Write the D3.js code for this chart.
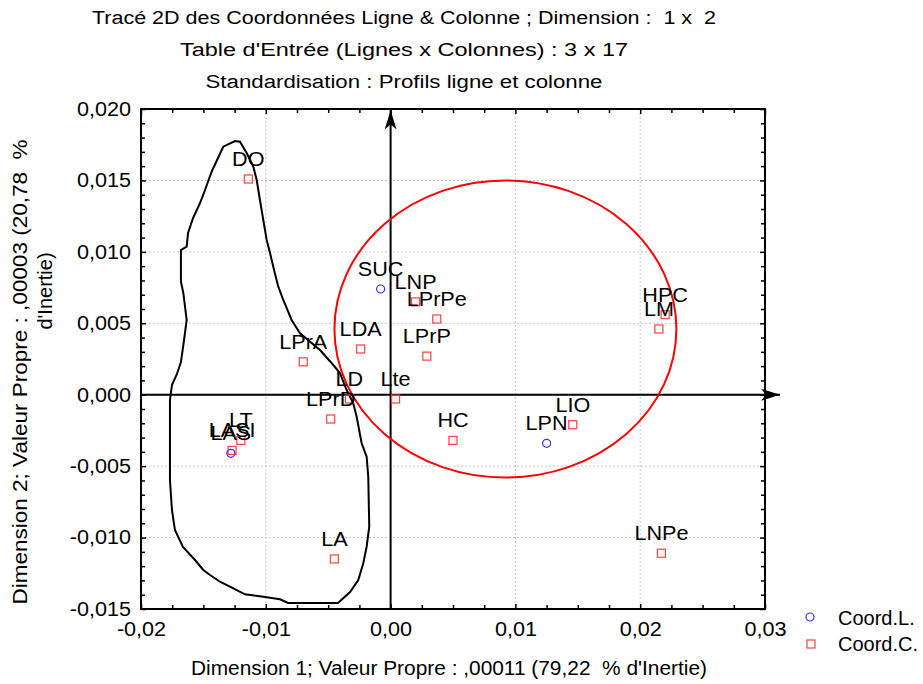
<!DOCTYPE html>
<html>
<head>
<meta charset="utf-8">
<script src="https://cdn.jsdelivr.net/npm/d3@7"></script>
<style>
  body { margin: 0; background: #fff; }
  svg { display: block; font-family: "Liberation Sans", Arial, sans-serif; }
</style>
</head>
<body>
<svg id="chart" width="923" height="684"></svg>
<script>
// ==========================
// DATA
// ==========================
// column points (Coord.C.)
const colLabels = ["DO", "LPrA", "LDA", "LNP", "LPrPe", "LPrP", "LD", "LPrD", "Lte", "HC", "LIO", "HPC", "LM", "LNPe", "LT", "LASI", "LA"];
const colX = [-0.0114, -0.0070, -0.0024, 0.0020, 0.0037, 0.0029, -0.0033, -0.0048, 0.0004, 0.0050, 0.0146, 0.0220, 0.0215, 0.0217, -0.0120, -0.0127, -0.0045];
const colY = [0.0151, 0.0023, 0.0032, 0.0065, 0.0053, 0.0027, -0.0003, -0.0017, -0.0003, -0.0032, -0.0021, 0.0056, 0.0046, -0.0111, -0.0032, -0.0039, -0.0115];

// row points (Coord.L.)
const rowLabels = ["SUC", "LPN", "LAS"];
const rowX = [-0.0008, 0.0125, -0.0128];
const rowY = [0.0074, -0.0034, -0.0041];

// axis ticks
const xTicks = [-0.02, -0.01, 0.00, 0.01, 0.02, 0.03];
const yTicks = [-0.015, -0.010, -0.005, 0.000, 0.005, 0.010, 0.015, 0.020];

// hand drawn group around the left points (data coords)
const outline = [
  [-0.01247, 0.01776], [-0.01207, 0.01771], [-0.01153, 0.01692], [-0.01100, 0.01596], [-0.01073, 0.01503],
  [-0.01047, 0.01363], [-0.01020, 0.01223], [-0.00993, 0.01083], [-0.00966, 0.00992], [-0.00934, 0.00873],
  [-0.00900, 0.00756], [-0.00860, 0.00663], [-0.00793, 0.00523], [-0.00726, 0.00430], [-0.00566, 0.00313],
  [-0.00459, 0.00208], [-0.00405, 0.00150], [-0.00352, 0.00033], [-0.00299, -0.00060], [-0.00272, -0.00154],
  [-0.00232, -0.00340], [-0.00192, -0.00434], [-0.00179, -0.00574], [-0.00171, -0.00924], [-0.00192, -0.01064],
  [-0.00219, -0.01180], [-0.00259, -0.01297], [-0.00325, -0.01381], [-0.00422, -0.01458], [-0.00822, -0.01458],
  [-0.00886, -0.01432], [-0.01020, -0.01414], [-0.01167, -0.01397], [-0.01260, -0.01355], [-0.01367, -0.01309],
  [-0.01447, -0.01262], [-0.01501, -0.01227], [-0.01567, -0.01157], [-0.01664, -0.01066], [-0.01728, -0.00947],
  [-0.01752, -0.00807], [-0.01768, -0.00597], [-0.01768, -0.00037], [-0.01752, 0.00068], [-0.01712, 0.00145],
  [-0.01680, 0.00229], [-0.01655, 0.00383], [-0.01634, 0.00523], [-0.01661, 0.00712], [-0.01680, 0.00791],
  [-0.01680, 0.01013], [-0.01634, 0.01036], [-0.01623, 0.01132], [-0.01583, 0.01237], [-0.01527, 0.01342],
  [-0.01487, 0.01433], [-0.01434, 0.01561], [-0.01383, 0.01657], [-0.01341, 0.01736]
];

// red ellipse: centre and radii (data coords)
const ellipseCenter = [0.0092, 0.0046];
const ellipseRadii = [0.0137, 0.0104];

// ==========================
// SETUP
// ==========================
const svg = d3.select("#chart");
const pLeft = 141, pRight = 765, pTop = 109, pBottom = 609;
const fontSize = 20;
const stretch = 1.08; // labels in the picture are a bit wider than plain Arial

const x = d3.scaleLinear().domain([-0.02, 0.03]).range([pLeft, pRight]);
const y = d3.scaleLinear().domain([-0.015, 0.02]).range([pBottom, pTop]);

const fr = d3.formatLocale({ decimal: ",", thousands: " ", grouping: [3], currency: ["", " €"], minus: "-" });

// widen a text selection horizontally
function widen(sel, k) {
    sel.each(function() {
        const w = this.getComputedTextLength();
        d3.select(this).attr("textLength", w * k).attr("lengthAdjust", "spacingAndGlyphs");
    });
}

// Titles
const titles = [
  { text: "Tracé 2D des Coordonnées Ligne & Colonne ; Dimension :  1 x  2", y: 24, w: 624 },
  { text: "Table d'Entrée (Lignes x Colonnes) : 3 x 17", y: 56, w: 448 },
  { text: "Standardisation : Profils ligne et colonne", y: 88, w: 397 }
];
svg.selectAll(".title")
    .data(titles)
    .enter()
    .append("text")
    .attr("class", "title")
    .attr("x", 404)
    .attr("y", d => d.y)
    .attr("text-anchor", "middle")
    .attr("font-size", 18)
    .attr("textLength", d => d.w)
    .attr("lengthAdjust", "spacingAndGlyphs")
    .style("white-space", "pre")
    .text(d => d.text);

// Grid (dotted)
const grid = svg.append("g").attr("class", "grid");
grid.selectAll(".gx")
    .data(xTicks.filter(v => v > -0.02 && v < 0.03))
    .enter().append("line")
    .attr("x1", d => x(d)).attr("x2", d => x(d))
    .attr("y1", pTop).attr("y2", pBottom)
    .attr("stroke", "#c8c8c8")
    .attr("stroke-dasharray", "2,2");
grid.selectAll(".gy")
    .data(yTicks.filter(v => v > -0.015 && v < 0.02))
    .enter().append("line")
    .attr("y1", d => y(d)).attr("y2", d => y(d))
    .attr("x1", pLeft).attr("x2", pRight)
    .attr("stroke", "#c8c8c8")
    .attr("stroke-dasharray", "2,2");

// Axes (ticks pointing inside the frame)
const xMinor = d3.range(-0.02, 0.0301, 0.0025).filter(v => Math.abs(Math.round(v * 100) - v * 100) > 1e-6);
const yMinor = d3.range(-0.015, 0.0201, 0.001).filter(v => Math.abs(Math.round(v * 200) - v * 200) > 1e-6);

function styleAxis(g) {
    g.select(".domain").remove();
    g.selectAll(".tick line").attr("stroke", "#000").attr("stroke-width", 1.5);
    g.selectAll(".tick text").attr("font-size", fontSize).attr("font-family", "Liberation Sans, Arial, sans-serif").attr("fill", "#000");
}

const xAxisG = svg.append("g").attr("transform", `translate(0,${pBottom})`)
    .call(d3.axisBottom(x).tickValues(xTicks).tickSizeInner(-5).tickSizeOuter(0).tickPadding(13).tickFormat(fr.format(".2f")))
    .call(styleAxis);
svg.append("g").attr("transform", `translate(0,${pBottom})`)
    .call(d3.axisBottom(x).tickValues(xMinor).tickSizeInner(-4).tickSizeOuter(0).tickFormat(""))
    .call(styleAxis);
svg.append("g").attr("transform", `translate(0,${pTop})`)
    .call(d3.axisTop(x).tickValues(xTicks).tickSizeInner(-5).tickSizeOuter(0).tickFormat(""))
    .call(styleAxis);
svg.append("g").attr("transform", `translate(0,${pTop})`)
    .call(d3.axisTop(x).tickValues(xMinor).tickSizeInner(-4).tickSizeOuter(0).tickFormat(""))
    .call(styleAxis);

const yAxisG = svg.append("g").attr("transform", `translate(${pLeft},0)`)
    .call(d3.axisLeft(y).tickValues(yTicks).tickSizeInner(-5).tickSizeOuter(0).tickPadding(10).tickFormat(fr.format(".3f")))
    .call(styleAxis);
svg.append("g").attr("transform", `translate(${pLeft},0)`)
    .call(d3.axisLeft(y).tickValues(yMinor).tickSizeInner(-4).tickSizeOuter(0).tickFormat(""))
    .call(styleAxis);
svg.append("g").attr("transform", `translate(${pRight},0)`)
    .call(d3.axisRight(y).tickValues(yTicks).tickSizeInner(-5).tickSizeOuter(0).tickFormat(""))
    .call(styleAxis);
svg.append("g").attr("transform", `translate(${pRight},0)`)
    .call(d3.axisRight(y).tickValues(yMinor).tickSizeInner(-4).tickSizeOuter(0).tickFormat(""))
    .call(styleAxis);

widen(xAxisG.selectAll(".tick text"), stretch);
widen(yAxisG.selectAll(".tick text"), stretch);

// Frame
svg.append("rect")
    .attr("x", pLeft).attr("y", pTop)
    .attr("width", pRight - pLeft).attr("height", pBottom - pTop)
    .attr("fill", "none")
    .attr("stroke", "#000")
    .attr("stroke-width", 2);

// Axis titles
svg.append("text")
    .attr("x", 449).attr("y", 675)
    .attr("text-anchor", "middle")
    .attr("font-size", fontSize)
    .attr("textLength", 516)
    .attr("lengthAdjust", "spacingAndGlyphs")
    .style("white-space", "pre")
    .text("Dimension 1; Valeur Propre : ,00011 (79,22  % d'Inertie)");

svg.append("text")
    .attr("transform", "translate(27,372) rotate(-90)")
    .attr("text-anchor", "middle")
    .attr("font-size", fontSize)
    .attr("textLength", 465)
    .attr("lengthAdjust", "spacingAndGlyphs")
    .style("white-space", "pre")
    .text("Dimension 2; Valeur Propre : ,00003 (20,78  %");
svg.append("text")
    .attr("transform", "translate(52,291) rotate(-90)")
    .attr("text-anchor", "middle")
    .attr("font-size", fontSize)
    .text("d'Inertie)");

// Origin axes with arrows
const axisLines = svg.append("g").attr("class", "origin-axes");
axisLines.append("line")
    .attr("x1", pLeft).attr("x2", x(0.0312))
    .attr("y1", y(0)).attr("y2", y(0))
    .attr("stroke", "#000").attr("stroke-width", 2);
axisLines.append("line")
    .attr("x1", x(0)).attr("x2", x(0))
    .attr("y1", pBottom).attr("y2", y(0.0199))
    .attr("stroke", "#000").attr("stroke-width", 2);

// arrow heads
const hx = x(0.0312), hy = y(0);
axisLines.append("path")
    .attr("d", `M${hx},${hy} L${hx - 19},${hy - 6} L${hx - 14},${hy} L${hx - 19},${hy + 6} Z`)
    .attr("fill", "#000");
const vx = x(0), vy = y(0.0199);
axisLines.append("path")
    .attr("d", `M${vx},${vy} L${vx - 6},${vy + 19} L${vx},${vy + 14} L${vx + 6},${vy + 19} Z`)
    .attr("fill", "#000");

// Black outline
const line = d3.line().x(d => x(d[0])).y(d => y(d[1])).curve(d3.curveLinearClosed);
svg.append("path")
    .datum(outline)
    .attr("d", line)
    .attr("fill", "none")
    .attr("stroke", "#000")
    .attr("stroke-width", 2);

// Red ellipse
svg.append("ellipse")
    .attr("cx", x(ellipseCenter[0]))
    .attr("cy", y(ellipseCenter[1]))
    .attr("rx", x(ellipseRadii[0]) - x(0))
    .attr("ry", y(0) - y(ellipseRadii[1]))
    .attr("fill", "none")
    .attr("stroke", "#ff0000")
    .attr("stroke-width", 2);

// Points
const cols = colLabels.map((l, i) => ({ label: l, x: colX[i], y: colY[i] }));
const rows = rowLabels.map((l, i) => ({ label: l, x: rowX[i], y: rowY[i] }));

svg.selectAll(".col-pt")
    .data(cols)
    .enter().append("rect")
    .attr("class", "col-pt")
    .attr("x", d => x(d.x) - 4)
    .attr("y", d => y(d.y) - 4)
    .attr("width", 8).attr("height", 8)
    .attr("fill", "none")
    .attr("stroke", "#ff4040")
    .attr("stroke-width", 1.2);

svg.selectAll(".row-pt")
    .data(rows)
    .enter().append("circle")
    .attr("class", "row-pt")
    .attr("cx", d => x(d.x))
    .attr("cy", d => y(d.y))
    .attr("r", 4)
    .attr("fill", "none")
    .attr("stroke", "#3030ff")
    .attr("stroke-width", 1.2);

// Point labels
const ptLabels = svg.selectAll(".pt-label")
    .data(cols.concat(rows))
    .enter().append("text")
    .attr("class", "pt-label")
    .attr("x", d => x(d.x))
    .attr("y", d => y(d.y) - 13)
    .attr("text-anchor", "middle")
    .attr("font-size", fontSize)
    .text(d => d.label);
widen(ptLabels, stretch);

// Legend
const legend = svg.append("g").attr("class", "legend");
legend.append("circle")
    .attr("cx", 810).attr("cy", 617).attr("r", 4)
    .attr("fill", "none").attr("stroke", "#3030ff").attr("stroke-width", 1.2);
legend.append("text")
    .attr("x", 838).attr("y", 625)
    .attr("font-size", fontSize)
    .text("Coord.L.");
legend.append("rect")
    .attr("x", 807).attr("y", 640).attr("width", 8).attr("height", 8)
    .attr("fill", "none").attr("stroke", "#ff4040").attr("stroke-width", 1.2);
legend.append("text")
    .attr("x", 838).attr("y", 651)
    .attr("font-size", fontSize)
    .text("Coord.C.");
</script>
</body>
</html>
